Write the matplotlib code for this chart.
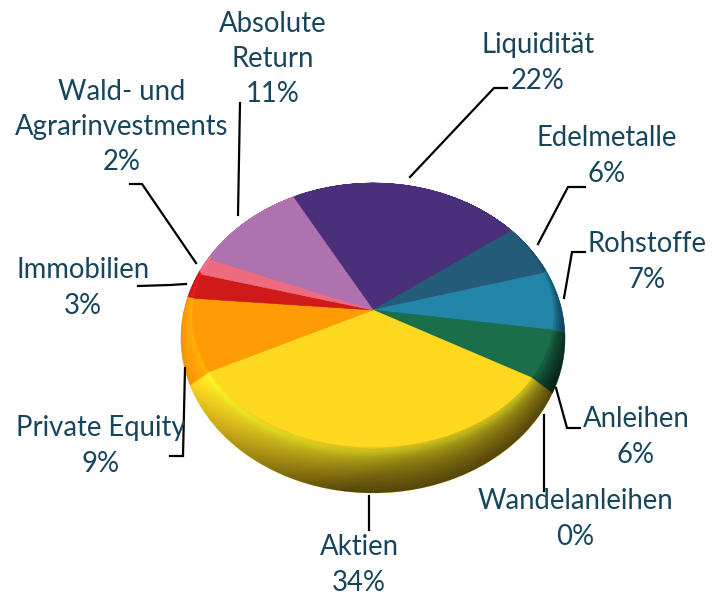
import numpy as np
import matplotlib
matplotlib.use("Agg")
import matplotlib.pyplot as plt
from matplotlib.colors import to_rgb
from matplotlib.path import Path
from matplotlib.transforms import Affine2D, Transform

# Data
categories = ["Liquidität", "Edelmetalle", "Rohstoffe", "Anleihen", "Wandelanleihen",
              "Aktien", "Private Equity", "Immobilien", "Wald- und\nAgrarinvestments",
              "Absolute\nReturn"]
values = [22, 6, 7, 6, 0, 34, 9, 3, 2, 11]
colors = ["#4A2F7B", "#245B78", "#2385A8", "#1A6F4A", "#0A4030",
          "#FFD820", "#FF9C05", "#D01A1A", "#EE6A7E", "#AE72AE"]

# Label centres, same order as categories
label_x = [538, 607, 647, 636, 575, 359, 101, 83, 122, 273]
label_y = [63, 156, 262, 437, 519, 565, 446, 288, 127, 59]

# Leader lines, same order as categories
leader_x = [[410, 494, 507], [538, 568, 585], [564, 572, 585], [556, 567, 580], [544, 544],
            [369, 369], [185, 183, 170], [186, 170, 138], [196, 142, 130], [238, 240]]
leader_y = [[177, 88, 88], [244, 187, 187], [298, 252, 252], [388, 428, 428], [415, 491],
            [496, 530], [368, 456, 456], [284, 285, 286], [263, 184, 184], [215, 103]]

TEXT_COLOR = "#17465C"
APEX_X, APEX_Y = 373, 310


class Tilt(Transform):
    # projective squash of the unit disc, the top edge is further away
    input_dims = 2
    output_dims = 2
    is_affine = False

    def __init__(self, k, sy, sx):
        super().__init__()
        self.k, self.sy, self.sx = k, sy, sx

    def transform_non_affine(self, values):
        v = np.asarray(values, dtype=float)
        w = 1 + self.k * v[:, 1]
        return np.column_stack([self.sx * v[:, 0] / w, -self.sy * v[:, 1] / w])


def layer_extent(t):
    return 183 + t * 1, 493 - t * 46, 192 - t * 12


def layer_transform(t):
    top, bottom, half_width = layer_extent(t)
    a = APEX_Y - top
    b = bottom - APEX_Y
    k = (b - a) / (b + a)
    sy = 2 * a * b / (a + b)
    sx = half_width * np.sqrt(1 - k**2)
    return Tilt(k, sy, sx) + Affine2D().translate(APEX_X, APEX_Y) + ax.transData


def shade(color, t):
    f = np.interp(t, [0, 0.3, 0.7, 0.87, 1], [0.95, 1.0, 1.08, 1.15, 1.0])
    return tuple(np.clip(np.array(to_rgb(color)) * f, 0, 1))


fig = plt.figure(figsize=(7.22, 5.97), dpi=100)
ax = fig.add_axes([0, 0, 1, 1])


def draw_layer(t, zorder):
    cols = [shade(c, t) for c in colors]
    wedges, _ = ax.pie(values, colors=cols, startangle=117.3, counterclock=False, radius=1)
    trans = layer_transform(t)
    for w, c in zip(wedges, cols):
        w.set_transform(trans)
        w.set_edgecolor(c)
        w.set_linewidth(0.4)
        w.set_zorder(zorder)
    return trans


# Rounded rim, from the outer edge inwards
levels = np.linspace(0, 0.98, 26)
for i, t in enumerate(levels):
    tr = draw_layer(t, 2 + i * 0.01)
    if i == 0:
        outer = tr

# Flat top face
draw_layer(1.0, 4)

ax.set_aspect("auto")
ax.axis("off")

# Shadow on the rim, light comes from the left
gx, gy = np.meshgrid(np.arange(178, 570) + 0.5, np.arange(180, 497) + 0.5)
rim_t = np.zeros(gx.shape)
for t in np.linspace(0, 1, 60):
    top, bottom, half_width = layer_extent(t)
    inside = ((gx - APEX_X) / half_width) ** 2 + ((gy - (top + bottom) / 2) / ((bottom - top) / 2)) ** 2 <= 1
    rim_t[inside] = t
top, bottom, half_width = layer_extent(0)
nx = (gx - APEX_X) / half_width
ny = (gy - (top + bottom) / 2) / ((bottom - top) / 2)
shadow = np.zeros(gx.shape + (4,))
shadow[:, :, 3] = np.clip(0.55 * nx + 0.83 * ny + 0.25, 0, 1) * 0.66 * (1 - rim_t) ** 0.4
im = ax.imshow(shadow, extent=(178, 570, 497, 180), aspect="auto", zorder=3)
im.set_clip_path(Path.unit_circle(), transform=outer)
ax.set_xlim(0, 722)
ax.set_ylim(597, 0)

for xs, ys in zip(leader_x, leader_y):
    ax.plot(xs, ys, color="black", lw=1.6, solid_joinstyle="miter", zorder=5)

for name, v, x, y in zip(categories, values, label_x, label_y):
    ax.text(x, y, f"{name}\n{v}%", ha="center", va="center", color=TEXT_COLOR,
            fontsize=19.8, family="Lato", linespacing=1.44, zorder=6)

fig.savefig("out.png", dpi=100)
